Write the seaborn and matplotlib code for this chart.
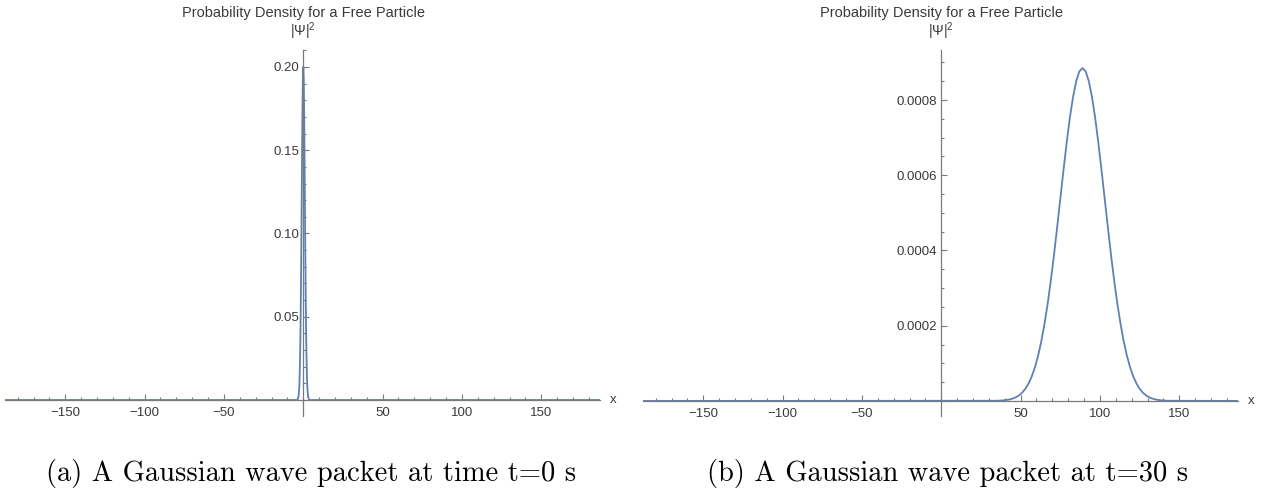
import matplotlib
matplotlib.use("Agg")
import matplotlib.pyplot as plt
import matplotlib.ticker as mticker
import seaborn as sns

# |Psi|^2 at t = 0 s (narrow packet around x = 0)
x_t0 = [-188, -4, -3.5, -3, -2.75, -2.5, -2.25, -2, -1.75, -1.5, -1.25, -1, -0.75, -0.5, -0.25,
        0, 0.25, 0.5, 0.75, 1, 1.25, 1.5, 1.75, 2, 2.25, 2.5, 2.75, 3, 3.5, 4, 188]
psi2_t0 = [0, 0, 0.0004, 0.0022, 0.0046, 0.0088, 0.0159, 0.0271, 0.0433, 0.0649, 0.0916, 0.1213, 0.1510, 0.1765, 0.1938,
           0.2000, 0.1938, 0.1765, 0.1510, 0.1213, 0.0916, 0.0649, 0.0433, 0.0271, 0.0159, 0.0088, 0.0046, 0.0022, 0.0004, 0, 0]

# |Psi|^2 at t = 30 s (spread packet centred near x = 89)
x_t30 = [-188, 35, 37, 39, 41, 43, 45, 47, 49, 51, 53, 55, 57, 59, 61, 63, 65, 67, 69, 71, 73, 75, 77, 79, 81, 83, 85, 87,
         89, 91, 93, 95, 97, 99, 101, 103, 105, 107, 109, 111, 113, 115, 117, 119, 121, 123, 125, 127, 129, 131, 133,
         135, 137, 139, 141, 143, 188]
psi2_t30 = [0, 0.0000005, 0.0000009, 0.0000015, 0.0000025, 0.0000040, 0.0000063, 0.0000098, 0.0000149, 0.0000222,
            0.0000325, 0.0000464, 0.0000650, 0.0000891, 0.000120, 0.000158, 0.000204, 0.000257, 0.000319, 0.000387,
            0.000461, 0.000537, 0.000613, 0.000686, 0.000752, 0.000807, 0.000850, 0.000876,
            0.000885, 0.000876, 0.000850, 0.000807, 0.000752, 0.000686, 0.000613, 0.000537, 0.000461, 0.000387,
            0.000319, 0.000257, 0.000204, 0.000158, 0.000120, 0.0000891, 0.0000650, 0.0000464, 0.0000325, 0.0000222,
            0.0000149, 0.0000098, 0.0000063, 0.0000040, 0.0000025, 0.0000015, 0.0000009, 0.0000005, 0]

x_major = [-150, -100, -50, 50, 100, 150]
y_major_t0 = [0.05, 0.10, 0.15, 0.20]
y_major_t30 = [0.0002, 0.0004, 0.0006, 0.0008]

title = "Probability Density for a Free Particle"
captions = ["(a) A Gaussian wave packet at time t=0 s", "(b) A Gaussian wave packet at t=30 s"]

sns.set_style("white")
plt.rcParams["font.family"] = ["Liberation Sans", "DejaVu Sans"]
plt.rcParams["mathtext.fontset"] = "custom"
plt.rcParams["mathtext.rm"] = "Liberation Sans"

line_col = "#5E81B5"
axis_col = "#7a7a7a"
text_col = "#3a3a3a"

fig = plt.figure(figsize=(12.66, 4.98), dpi=100)
ax1 = fig.add_axes([5 / 1266, 82 / 498, 595 / 1266, 366 / 498])
ax2 = fig.add_axes([643 / 1266, 82 / 498, 595 / 1266, 366 / 498])

panels = [
    (ax1, x_t0, psi2_t0, y_major_t0, (-0.0096, 0.2102), 0.01, "%.2f"),
    (ax2, x_t30, psi2_t30, y_major_t30, (-0.00004, 0.000933), 0.00005, "%.4f"),
]

for ax, xs, ys, yt, ylim, yminor, fmt in panels:
    sns.lineplot(x=xs, y=ys, ax=ax, color=line_col, linewidth=1.3)
    ax.set_xlim(-188, 187)
    ax.set_ylim(*ylim)
    for s in ["top", "right"]:
        ax.spines[s].set_visible(False)
    ax.spines["left"].set_position(("data", 0))
    ax.spines["bottom"].set_position(("data", 0))
    for s in ["left", "bottom"]:
        ax.spines[s].set_color(axis_col)
        ax.spines[s].set_linewidth(0.9)
    ax.set_xticks(x_major)
    ax.xaxis.set_minor_locator(mticker.MultipleLocator(10))
    ax.set_yticks(yt)
    ax.yaxis.set_minor_locator(mticker.MultipleLocator(yminor))
    ax.yaxis.set_major_formatter(mticker.FormatStrFormatter(fmt))
    ax.tick_params(which="both", direction="in", color=axis_col, width=0.8,
                   bottom=True, left=True, top=False, right=False,
                   labelsize=9.5, labelcolor=text_col)
    ax.tick_params(which="major", length=4.5)
    ax.tick_params(which="minor", length=2.5)
    ax.tick_params(axis="x", pad=5)
    ax.tick_params(axis="y", pad=3)
    ax.set_xlabel("")
    ax.set_ylabel("")
    tr = ax.get_xaxis_transform()
    ax.text(0, 1.101, title, transform=tr, ha="center", va="center",
            fontsize=10.5, color=text_col, clip_on=False)
    ax.text(0, 1.052, r"|Ψ|$^{2}$", transform=tr, ha="center", va="center",
            fontsize=10, color=text_col, clip_on=False)
    ax.text(195, 0, "x", ha="center", va="center", fontsize=9.5,
            color=text_col, clip_on=False)

fig.text(311 / 1266, 1 - 473 / 498, captions[0], ha="center", va="center",
         fontsize=20.5, family=["cmr10", "DejaVu Serif"], color="black")
fig.text(948 / 1266, 1 - 473 / 498, captions[1], ha="center", va="center",
         fontsize=20.5, family=["cmr10", "DejaVu Serif"], color="black")

fig.savefig("out.png", dpi=100)
